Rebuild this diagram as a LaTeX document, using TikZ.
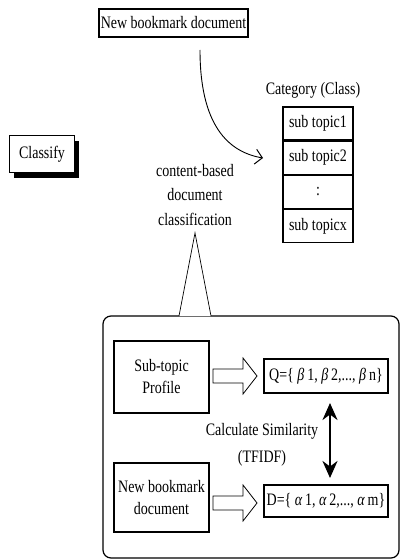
\documentclass[tikz,border=0pt]{standalone}
\usepackage{fontspec}
\setmainfont[FakeStretch=0.8]{Liberation Serif}
\usetikzlibrary{arrows.meta,shadows}

\tikzset{
  lbl/.style={font=\fontsize{17.5}{20}\selectfont, inner sep=0pt},
  plainbox/.style={draw, line width=1.1pt, fill=white, inner sep=0pt},
  setbox/.style={draw, line width=1.6pt, fill=white, inner sep=0pt},
  cell/.style={draw, line width=1.1pt, minimum width=70pt, minimum height=33pt,
    inner sep=0pt, font=\fontsize{17.5}{20}\selectfont},
  hollow/.style={draw, line width=0.8pt, fill=white},
}

\begin{document}
\begin{tikzpicture}[x=1pt, y=-1pt]
\useasboundingbox (0,0) rectangle (400,559);

% incoming document
\node[plainbox, minimum width=149pt, minimum height=28pt, lbl] (newdoc) at (173.5,23) {New bookmark document};
\coordinate (curvestart) at (200,50);
\coordinate (curveend) at (263,158);

% category stack
\node[lbl] (cat) at (313,90) {Category (Class)};
\node[cell] (c1) at (318,123.5) {sub topic1};
\node[cell, anchor=north] (c2) at (c1.south) {sub topic2};
\node[cell, anchor=north] (c3) at (c2.south) {:};
\node[cell, anchor=north] (c4) at (c3.south) {sub topicx};

\draw[line width=0.9pt, -{Straight Barb[length=7pt,width=15pt,line width=1pt]}]
  (curvestart) .. controls (200,125) and (228,152) .. (curveend);

% classify label with drop shadow
\node[plainbox, minimum width=65pt, minimum height=37pt, lbl, anchor=north west,
  drop shadow={shadow xshift=4pt, shadow yshift=-5pt, fill=black, opacity=1}]
  (classify) at (9,135) {Classify};

% callout caption
\node[lbl, align=center, font=\fontsize{17.5}{24.5}\selectfont] (caption) at (195,195)
  {content-based\\document\\classification};
\coordinate (apex) at (195,233);

% enclosing rounded panel
\draw[line width=1.2pt, rounded corners=8pt] (103,316) rectangle (399,558);
\coordinate (tl) at (179,316);
\coordinate (tr) at (211,316);
\fill[white] (apex) -- (tl) -- (tr) -- cycle;
\draw[line width=0.7pt] (tl) -- (apex) -- (tr);

% left boxes
\node[plainbox, line width=1.4pt, minimum width=95pt, minimum height=72pt, lbl, align=center,
  font=\fontsize{17.5}{22}\selectfont] (profile) at (161.5,377) {Sub-topic\\Profile};
\node[plainbox, line width=1.4pt, minimum width=95pt, minimum height=69pt, lbl, align=center,
  font=\fontsize{17.5}{22}\selectfont] (bookdoc) at (161.5,497.5) {New bookmark\\document};

% term vectors
\node[setbox, minimum width=124pt, minimum height=34pt, lbl] (qset) at (326,376)
  {Q=\{ {\itshape β}\,1, {\itshape β}\,2,..., {\itshape β}\,n\}};
\node[setbox, minimum width=124pt, minimum height=32pt, lbl] (dset) at (326,501)
  {D=\{ {\itshape α}\,1, {\itshape α}\,2,..., {\itshape α}\,m\}};

% hollow block arrows
\draw[hollow] (213,369) -- (243,369) -- (243,358) -- (257,376) -- (243,394) -- (243,383) -- (213,383) -- cycle;
\draw[hollow] (213,496) -- (243,496) -- (243,485) -- (257,503) -- (243,521) -- (243,510) -- (213,510) -- cycle;

% similarity
\coordinate (simtop) at (330,403);
\coordinate (simbot) at (330,478);
\draw[line width=2.6pt, {Stealth[length=17pt,width=15pt]}-{Stealth[length=17pt,width=15pt]}] (simtop) -- (simbot);
\node[lbl, align=center, font=\fontsize{17.5}{27}\selectfont] (sim) at (262,445)
  {Calculate Similarity\\(TFIDF)};
\end{tikzpicture}
\end{document}
